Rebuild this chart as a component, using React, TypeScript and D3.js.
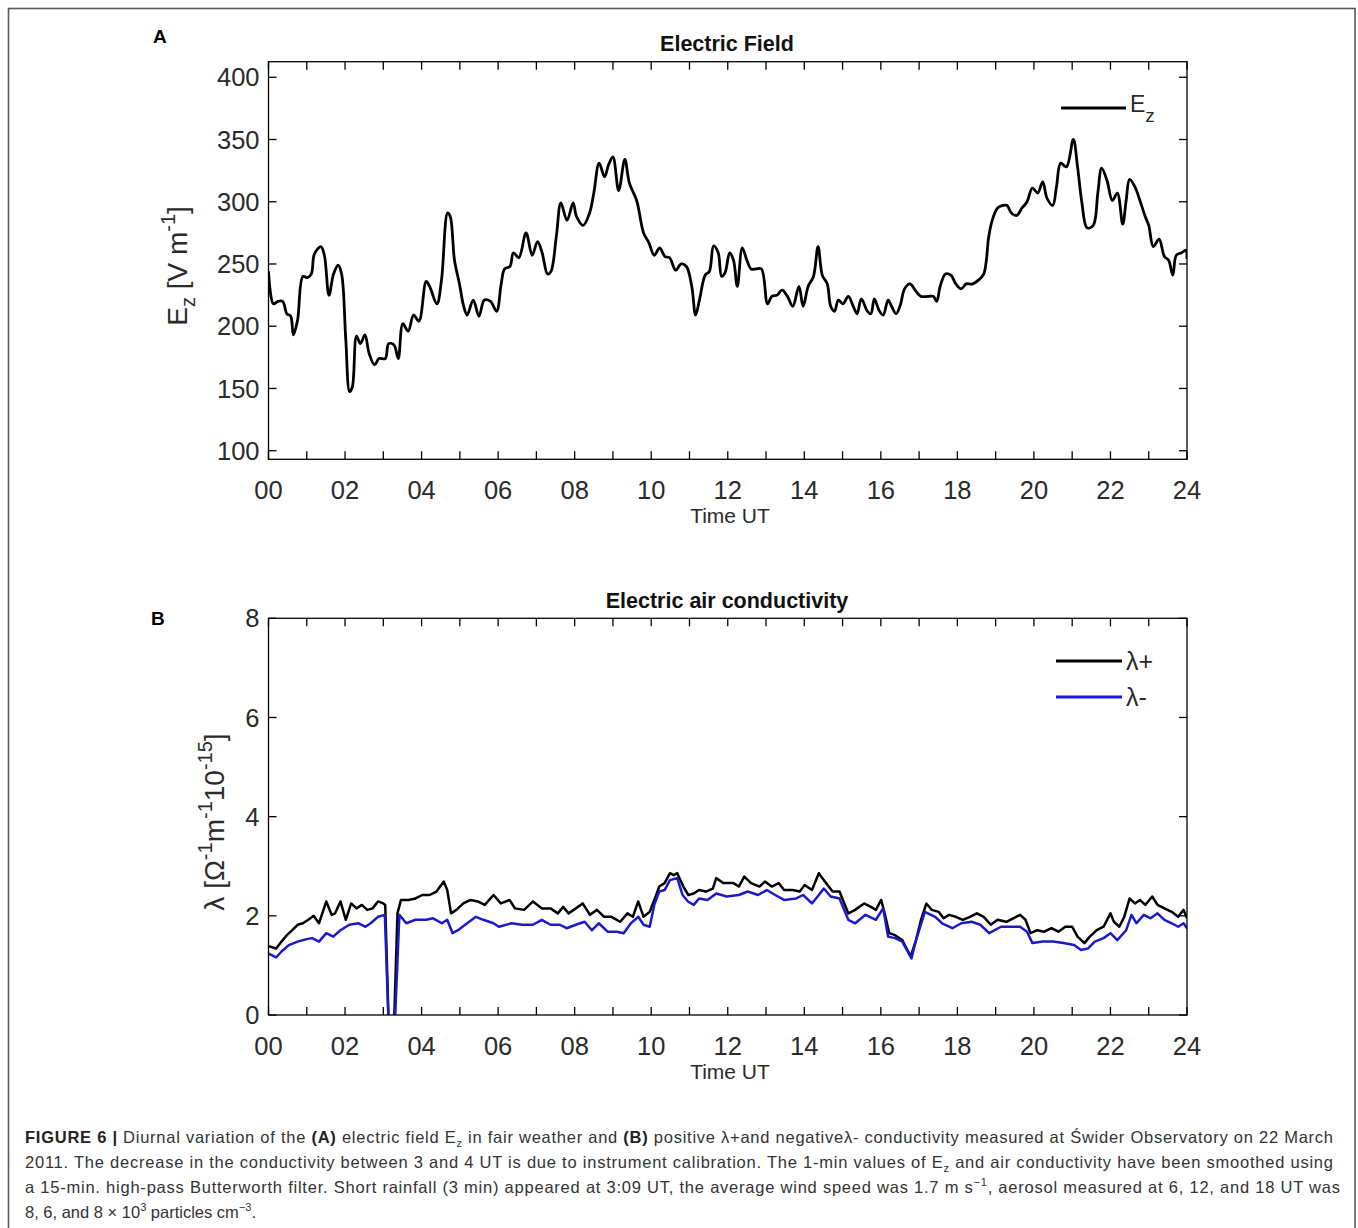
import React from "react";
import * as d3 from "d3";

// ---------- DATA ----------
const hourTicks = d3.range(0, 25, 1);
const hourLabels = ["00", "02", "04", "06", "08", "10", "12", "14", "16", "18", "20", "22", "24"];
const ezTicks = [100, 150, 200, 250, 300, 350, 400];
const lambdaTicks = [0, 2, 4, 6, 8];

const ezHours = [
  0, 0.13, 0.25, 0.37, 0.48, 0.58, 0.65, 0.76, 0.9, 1.02, 1.12, 1.2, 1.37, 1.46, 1.58, 1.7, 1.82, 1.91,
  2.02, 2.12, 2.19, 2.3, 2.4, 2.52, 2.63, 2.77, 2.89, 3.05, 3.14, 3.28, 3.39, 3.51, 3.65, 3.79, 3.93,
  4.12, 4.21, 4.4, 4.52, 4.68, 4.75, 4.86, 4.99, 5.1, 5.19, 5.35, 5.5, 5.64, 5.8, 5.96, 6.08, 6.17,
  6.31, 6.4, 6.54, 6.73, 6.89, 7.03, 7.15, 7.29, 7.38, 7.52, 7.64, 7.8, 7.96, 8.05, 8.22, 8.39, 8.5,
  8.64, 8.78, 8.89, 9.0, 9.15, 9.31, 9.43, 9.62, 9.8, 9.94, 10.08, 10.22, 10.36, 10.48, 10.64, 10.78,
  10.92, 11.06, 11.16, 11.26, 11.41, 11.52, 11.63, 11.75, 11.84, 11.93, 12.05, 12.15, 12.25, 12.38,
  12.5, 12.61, 12.74, 12.88, 13.04, 13.15, 13.29, 13.42, 13.56, 13.7, 13.86, 13.97, 14.1, 14.24,
  14.36, 14.47, 14.6, 14.69, 14.79, 14.89, 15.01, 15.15, 15.28, 15.38, 15.49, 15.65, 15.74, 15.83,
  15.95, 16.06, 16.19, 16.28, 16.4, 16.51, 16.62, 16.76, 16.92, 17.05, 17.24, 17.37, 17.46, 17.55,
  17.69, 17.83, 17.96, 18.1, 18.23, 18.4, 18.55, 18.69, 18.82, 18.91, 19.05, 19.19, 19.3, 19.41,
  19.55, 19.69, 19.82, 19.96, 20.1, 20.23, 20.34, 20.49, 20.59, 20.7, 20.85, 21.03, 21.14, 21.25,
  21.39, 21.55, 21.67, 21.77, 21.91, 22.05, 22.18, 22.32, 22.41, 22.5, 22.64, 22.77, 22.91, 23.0,
  23.12, 23.27, 23.41, 23.52, 23.63, 23.72, 23.86, 23.97, 24.0,
];
const ezValues = [
  244, 218, 220, 220, 210, 208, 193, 205, 240, 239, 242, 258, 264, 257, 225, 242, 249, 242,
  189, 147.5, 151, 192, 186, 193, 178, 169, 174, 174, 186, 185, 174, 202, 196, 209, 204,
  236, 232, 218, 237, 291, 288, 253, 234, 216, 209, 221, 208, 221, 220, 212, 234, 246,
  248, 259, 255, 275, 257, 268, 259, 242, 244, 272, 299, 285, 299, 288, 281, 291, 307,
  331, 320, 330, 336, 309, 334, 315, 301, 275, 267, 257, 263, 256, 255, 245, 250,
  248, 232, 209, 221, 241, 244, 264.5, 259, 240, 243, 259, 253, 232, 263,
  253, 246, 246, 246, 218, 224, 225, 229, 224, 216, 232, 216, 232, 240,
  264, 241, 234, 216, 212, 221, 218, 224, 216, 210, 222, 212, 210, 222,
  213, 209, 221, 216, 210, 217, 230, 234, 228, 224, 224, 224, 220, 232,
  242, 241, 234, 230, 234, 234, 237, 242, 272, 285, 295, 297, 297, 291,
  289, 295, 300, 311, 307, 316, 303, 297, 312, 331, 328, 350, 328, 300,
  279, 281, 307, 327, 317, 301, 307, 282, 301, 318, 312, 301, 288, 281,
  264, 270, 256, 253, 241, 257, 259, 261, 254,
];

const lambdaPlusHours = [
  0, 0.2, 0.34, 0.48, 0.62, 0.76, 0.9, 1.04, 1.18, 1.32, 1.51, 1.65, 1.74, 1.88, 2.02, 2.16, 2.3,
  2.44, 2.58, 2.72, 2.86, 3.0, 3.05, 3.14, 3.28, 3.37, 3.46, 3.65, 3.84, 4.02, 4.21, 4.39, 4.58,
  4.67, 4.77, 4.91, 5.09, 5.28, 5.47, 5.65, 5.88, 6.07, 6.3, 6.44, 6.68, 6.91, 7.14, 7.37, 7.56,
  7.7, 7.84, 8.03, 8.21, 8.4, 8.58, 8.77, 8.96, 9.19, 9.38, 9.52, 9.66, 9.8, 9.96, 10.08, 10.21,
  10.35, 10.49, 10.59, 10.68, 10.84, 10.97, 11.11, 11.25, 11.43, 11.61, 11.7, 11.88, 12.15, 12.29,
  12.43, 12.61, 12.83, 12.97, 13.15, 13.33, 13.47, 13.7, 13.88, 14.01, 14.2, 14.38, 14.51, 14.74,
  14.92, 15.01, 15.15, 15.33, 15.56, 15.74, 15.87, 16.01, 16.1, 16.22, 16.37, 16.56, 16.78, 16.92,
  17.05, 17.19, 17.33, 17.51, 17.64, 17.78, 17.96, 18.14, 18.33, 18.51, 18.69, 18.87, 19.05, 19.28,
  19.46, 19.64, 19.78, 19.91, 20.09, 20.27, 20.46, 20.64, 20.82, 21.0, 21.14, 21.32, 21.46, 21.64,
  21.82, 22.0, 22.09, 22.23, 22.36, 22.5, 22.64, 22.77, 22.91, 23.09, 23.23, 23.41, 23.6, 23.77,
  23.91, 24.0,
];
const lambdaPlusValues = [
  1.39, 1.34, 1.48, 1.61, 1.71, 1.82, 1.85, 1.92, 2.0, 1.85, 2.29, 2.02, 2.05, 2.29, 1.92, 2.25, 2.15,
  2.22, 2.12, 2.15, 2.29, 2.25, 2.22, -0.2, -0.2, 2.05, 2.32, 2.32, 2.35, 2.42, 2.42, 2.49, 2.69,
  2.52, 2.05, 2.12, 2.25, 2.32, 2.29, 2.22, 2.42, 2.25, 2.32, 2.15, 2.12, 2.29, 2.15, 2.15, 2.05,
  2.18, 2.05, 2.15, 2.25, 2.02, 2.12, 1.98, 1.98, 1.88, 2.05, 1.98, 2.29, 1.98, 2.08, 2.32, 2.59,
  2.66, 2.86, 2.82, 2.86, 2.59, 2.42, 2.45, 2.52, 2.49, 2.55, 2.76, 2.66, 2.66, 2.59,
  2.79, 2.66, 2.59, 2.69, 2.59, 2.66, 2.52, 2.52, 2.49, 2.62, 2.52, 2.86, 2.72, 2.49,
  2.49, 2.32, 2.05, 2.12, 2.25, 2.18, 2.12, 2.32, 2.05, 1.65, 1.61, 1.51, 1.18, 1.51,
  1.92, 2.25, 2.12, 2.08, 1.95, 2.02, 1.98, 1.92, 1.98, 2.05, 1.98, 1.82, 1.92, 1.88,
  1.95, 2.02, 1.92, 1.65, 1.71, 1.68, 1.75, 1.68, 1.78, 1.78, 1.58, 1.45, 1.58, 1.71,
  1.78, 2.05, 1.88, 1.78, 1.98, 2.35, 2.25, 2.32, 2.22, 2.39, 2.22, 2.15, 2.08, 1.98,
  2.12, 1.95,
];

const lambdaMinusHours = [
  0, 0.2, 0.34, 0.53, 0.76, 1.0, 1.14, 1.32, 1.51, 1.69, 1.88, 2.11, 2.35, 2.53, 2.67, 2.86, 3.04,
  3.14, 3.3, 3.42, 3.6, 3.84, 4.12, 4.3, 4.53, 4.67, 4.81, 4.95, 5.19, 5.42, 5.61, 5.88, 6.02, 6.35,
  6.63, 6.91, 7.14, 7.37, 7.61, 7.79, 8.03, 8.26, 8.45, 8.63, 8.86, 9.1, 9.28, 9.47, 9.66, 9.8,
  9.96, 10.08, 10.21, 10.35, 10.49, 10.68, 10.82, 10.96, 11.11, 11.25, 11.47, 11.7, 11.97, 12.29,
  12.52, 12.79, 13.02, 13.24, 13.47, 13.79, 13.97, 14.2, 14.38, 14.51, 14.69, 14.92, 15.15, 15.33,
  15.6, 15.87, 16.06, 16.19, 16.37, 16.56, 16.8, 16.92, 17.15, 17.42, 17.6, 17.87, 18.1, 18.37,
  18.6, 18.83, 19.14, 19.41, 19.64, 19.82, 19.96, 20.23, 20.5, 20.77, 21.05, 21.23, 21.41, 21.59,
  21.82, 22.0, 22.18, 22.41, 22.55, 22.68, 22.87, 23.05, 23.23, 23.41, 23.6, 23.77, 23.91, 24.0,
];
const lambdaMinusValues = [
  1.24, 1.16, 1.28, 1.41, 1.48, 1.53, 1.55, 1.48, 1.65, 1.58, 1.71, 1.82, 1.85, 1.78, 1.85, 1.98, 2.02,
  -0.2, -0.2, 2.02, 1.85, 1.92, 1.92, 1.95, 1.85, 1.92, 1.65, 1.71, 1.85, 1.98, 1.92, 1.85, 1.78, 1.85,
  1.82, 1.82, 1.92, 1.82, 1.82, 1.75, 1.82, 1.88, 1.71, 1.85, 1.68, 1.68, 1.65, 1.85, 1.98, 1.82,
  1.78, 2.22, 2.49, 2.52, 2.72, 2.76, 2.42, 2.29, 2.22, 2.35, 2.32, 2.45, 2.39, 2.42,
  2.49, 2.42, 2.52, 2.42, 2.32, 2.35, 2.42, 2.25, 2.42, 2.55, 2.39, 2.35, 1.92, 1.85,
  2.02, 1.92, 2.15, 1.58, 1.55, 1.48, 1.14, 1.51, 2.08, 1.98, 1.85, 1.75, 1.85, 1.88,
  1.82, 1.65, 1.78, 1.78, 1.78, 1.68, 1.45, 1.48, 1.48, 1.45, 1.41, 1.31, 1.34, 1.48,
  1.55, 1.65, 1.51, 1.71, 2.02, 1.85, 2.02, 1.95, 2.05, 1.92, 1.85, 1.78, 1.85, 1.75,
];

const BLUE = "#1a1acd";
const FONT = "'Liberation Sans', Arial, Helvetica, sans-serif";
const TXT = "#2a2a2a";

// ---------- LAYOUT ----------
const X0 = 268.5;
const X1 = 1187;
const x = d3.scaleLinear().domain([0, 24]).range([X0, X1]);

type PanelProps = {
  top: number;
  bottom: number;
  yDomain: [number, number];
  yTicks: number[];
  children: (y: d3.ScaleLinear<number, number>) => React.ReactNode;
  clipId: string;
};

function Panel({ top, bottom, yDomain, yTicks, children, clipId }: PanelProps) {
  const y = d3.scaleLinear().domain(yDomain).range([bottom, top]);
  const tl = 8;
  return (
    <g>
      <defs>
        <clipPath id={clipId}>
          <rect x={X0} y={top} width={X1 - X0} height={bottom - top} />
        </clipPath>
      </defs>
      <g clipPath={`url(#${clipId})`}>{children(y)}</g>
      <rect x={X0} y={top} width={X1 - X0} height={bottom - top} fill="none" stroke="#000" strokeWidth={1.3} />
      {hourTicks.map((h) => (
        <g key={"xt" + h}>
          <line x1={x(h)} x2={x(h)} y1={bottom} y2={bottom - tl} stroke="#000" strokeWidth={1.3} />
          <line x1={x(h)} x2={x(h)} y1={top} y2={top + tl} stroke="#000" strokeWidth={1.3} />
        </g>
      ))}
      {yTicks.map((v) => (
        <g key={"yt" + v}>
          <line x1={X0} x2={X0 + tl} y1={y(v)} y2={y(v)} stroke="#000" strokeWidth={1.3} />
          <line x1={X1} x2={X1 - tl} y1={y(v)} y2={y(v)} stroke="#000" strokeWidth={1.3} />
          <text x={X0 - 9} y={y(v)} dy="0.36em" textAnchor="end" fontSize={25.5} fill={TXT} fontFamily={FONT}>
            {v}
          </text>
        </g>
      ))}
      {hourLabels.map((lab, i) => (
        <text key={"xl" + lab} x={x(i * 2)} y={bottom + 40} textAnchor="middle" fontSize={25.5} fill={TXT} fontFamily={FONT}>
          {lab}
        </text>
      ))}
      <text x={730} y={bottom + 64} textAnchor="middle" fontSize={21} fill={TXT} fontFamily={FONT}>
        Time UT
      </text>
    </g>
  );
}

export default function App() {
  const lineX = (hours: number[], values: number[], y: d3.ScaleLinear<number, number>, curve: d3.CurveFactory) =>
    d3
      .line<number>()
      .x((_, i) => x(hours[i]))
      .y((v) => y(v))
      .curve(curve)(values) || "";

  return (
    <svg
      width={1358}
      height={1228}
      style={{ position: "absolute", left: 0, top: 0, display: "block", background: "#fff" }}
      fontFamily={FONT}
    >
      <rect x={0} y={0} width={1358} height={1228} fill="#fff" />
      <rect x={8.5} y={8.5} width={1346.5} height={1240} fill="none" stroke="#5a5a5a" strokeWidth={1.6} />

      {/* Panel A */}
      <text x={153} y={43} fontSize={19} fontWeight="bold" fill="#000">A</text>
      <text x={727} y={51} textAnchor="middle" fontSize={21.5} fontWeight="bold" fill="#111">Electric Field</text>
      <Panel top={61.7} bottom={459.3} yDomain={[93.1, 412.5]} yTicks={ezTicks} clipId="clipA">
        {(y) => (
          <path d={lineX(ezHours, ezValues, y, d3.curveCatmullRom.alpha(0.5))} fill="none" stroke="#000" strokeWidth={2.8} strokeLinejoin="round" />
        )}
      </Panel>
      <text transform="translate(187,266) rotate(-90)" textAnchor="middle" fontSize={28} fill={TXT}>
        E<tspan fontSize={20} dy={8}>z</tspan>
        <tspan dy={-8}> [V m</tspan>
        <tspan fontSize={20} dy={-12}>-1</tspan>
        <tspan dy={12}>]</tspan>
      </text>
      {/* Legend A */}
      <line x1={1061} x2={1126} y1={108} y2={108} stroke="#000" strokeWidth={2.8} />
      <text x={1130} y={112} fontSize={23} fill={TXT}>
        E<tspan fontSize={19} dy={10}>z</tspan>
      </text>

      {/* Panel B */}
      <text x={151} y={625} fontSize={19} fontWeight="bold" fill="#000">B</text>
      <text x={727} y={608} textAnchor="middle" fontSize={21.5} fontWeight="bold" fill="#111">Electric air conductivity</text>
      <Panel top={618.3} bottom={1015} yDomain={[0, 8]} yTicks={lambdaTicks} clipId="clipB">
        {(y) => (
          <g>
            <path d={lineX(lambdaPlusHours, lambdaPlusValues, y, d3.curveLinear)} fill="none" stroke="#000" strokeWidth={2.5} strokeLinejoin="round" />
            <path d={lineX(lambdaMinusHours, lambdaMinusValues, y, d3.curveLinear)} fill="none" stroke={BLUE} strokeWidth={2.5} strokeLinejoin="round" />
          </g>
        )}
      </Panel>
      <text transform="translate(224,822) rotate(-90)" textAnchor="middle" fontSize={28} fill={TXT}>
        λ [Ω<tspan fontSize={20} dy={-12}>-1</tspan>
        <tspan dy={12}>m</tspan>
        <tspan fontSize={20} dy={-12}>-1</tspan>
        <tspan dy={12}>10</tspan>
        <tspan fontSize={20} dy={-12}>-15</tspan>
        <tspan dy={12}>]</tspan>
      </text>
      {/* Legend B */}
      <line x1={1056} x2={1122} y1={661} y2={661} stroke="#000" strokeWidth={2.8} />
      <text x={1126} y={670} fontSize={25} fill={TXT}>λ+</text>
      <line x1={1056} x2={1122} y1={697} y2={697} stroke={BLUE} strokeWidth={2.8} />
      <text x={1126} y={706} fontSize={25} fill={TXT}>λ-</text>

      {/* Caption */}
      <g fontSize={16.5} fill="#333">
        <text x={25} y={1143} textLength={1308} lengthAdjust="spacing">
          <tspan fontWeight="bold" fill="#222">FIGURE 6 |</tspan> Diurnal variation of the <tspan fontWeight="bold" fill="#222">(A)</tspan> electric field E<tspan fontSize={11} dy={4}>z</tspan><tspan dy={-4}> in fair weather and </tspan><tspan fontWeight="bold" fill="#222">(B)</tspan> positive λ+and negativeλ- conductivity measured at Świder Observatory on 22 March
        </text>
        <text x={25} y={1168} textLength={1308} lengthAdjust="spacing">
          2011. The decrease in the conductivity between 3 and 4 UT is due to instrument calibration. The 1-min values of E<tspan fontSize={11} dy={4}>z</tspan><tspan dy={-4}> and air conductivity have been smoothed using</tspan>
        </text>
        <text x={25} y={1193} textLength={1315} lengthAdjust="spacing">
          a 15-min. high-pass Butterworth filter. Short rainfall (3 min) appeared at 3:09 UT, the average wind speed was 1.7 m s<tspan fontSize={11} dy={-7}>−1</tspan><tspan dy={7}>, aerosol measured at 6, 12, and 18 UT was</tspan>
        </text>
        <text x={25} y={1218}>
          8, 6, and 8 × 10<tspan fontSize={11} dy={-7}>3</tspan><tspan dy={7}> particles cm</tspan><tspan fontSize={11} dy={-7}>−3</tspan><tspan dy={7}>.</tspan>
        </text>
      </g>
    </svg>
  );
}
